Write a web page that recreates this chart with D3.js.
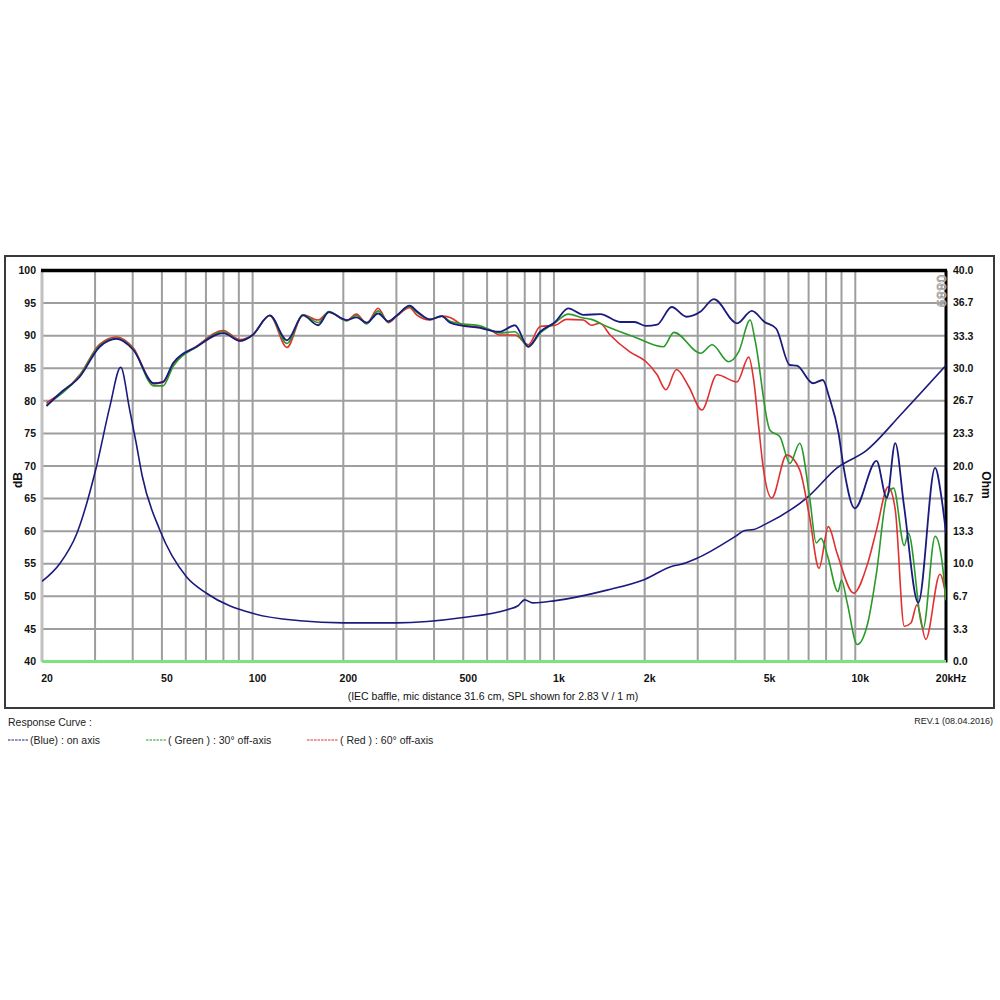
<!DOCTYPE html>
<html>
<head>
<meta charset="utf-8">
<script src="https://cdn.jsdelivr.net/npm/d3@7"></script>
<style>
  html, body { margin: 0; padding: 0; background: #fff; }
  svg { display: block; font-family: "Liberation Sans", Arial, sans-serif; }
</style>
</head>
<body>
<svg id="chart" width="1000" height="1000"></svg>
<script>
// ---------------- DATA ----------------
const blueFreq = [20.7,23,26.7,31.1,35.4,40.2,47,50.4,54.5,65.2,79.9,90.8,100,114,130,147,165,179,205,221,239,261,282,301,332,350,388,424,452,500,568,613,660,742,822,900,1010,1115,1252,1426,1658,1850,2022,2200,2460,2754,3068,3392,4050,4536,5000,5460,6060,6400,7240,7800,8200,8800,9140,9960,11760,12720,13570,14500,16180,18400,19300,20000];
const blueDb   = [79.2,81.2,83.7,88.3,89.5,87.8,82.7,82.9,85.8,88.3,90.4,89.2,90.1,93.1,89.3,93.1,91.6,93.6,92.4,92.8,92.0,93.4,92.2,93.1,94.6,93.8,92.5,93.0,92.0,91.5,91.2,90.8,90.6,91.6,88.3,90.6,92.1,94.2,93.2,93.3,92.1,92.1,91.5,91.7,94.4,92.9,93.7,95.6,91.9,93.8,92.1,91.1,85.5,85.4,82.7,83.2,80.5,75.0,69.9,63.5,70.8,65.1,73.5,64.0,49.0,69.7,65.3,59.7];

const greenFreq = [20.7,26.7,31.1,35.4,40.2,47,50.4,54.5,65.2,79.9,90.8,100,114,130,147,165,179,205,221,239,261,282,301,332,350,388,424,452,500,568,613,660,742,822,900,1010,1115,1252,1330,1498,1850,2306,2500,3068,3348,3796,4100,4480,4650,5210,5620,6070,6540,7050,7420,7700,8100,8760,9000,9400,10150,11000,11760,12720,13400,14540,15000,16800,18400,19300,20000];
const greenDb   = [79.4,83.9,88.5,89.6,87.9,82.3,82.3,85.3,88.3,90.6,89.2,90.1,93.1,88.8,93.2,92.0,93.7,92.3,93.1,91.8,93.8,92.1,93.1,94.5,93.6,92.5,93.0,92.2,91.8,91.5,90.9,90.4,90.6,88.3,90.4,92.0,93.3,92.7,92.5,91.4,89.8,88.3,90.5,87.3,88.6,86.0,87.5,92.4,89.3,75.5,74.5,70.4,73.5,65.3,58.2,58.9,56.1,50.7,52.5,49.0,42.6,45.9,53.6,65.3,66.6,57.8,59.7,45.1,59.2,56.1,49.4];

const redFreq = [20.7,26.7,31.1,35.4,40.2,47,50.4,54.5,65.2,79.9,90.8,100,114,130,147,165,179,205,221,239,261,282,301,332,350,388,424,452,500,568,613,660,742,822,900,1010,1100,1252,1330,1420,1536,1786,2022,2200,2352,2550,2800,3096,3476,4050,4430,4600,4780,4960,5280,5920,6540,7050,7580,8140,8700,9880,11000,11760,12860,13570,14540,15300,16020,17140,19100,20000];
const redDb   = [79.7,84.0,88.7,89.8,88.1,82.6,82.8,85.6,88.4,90.8,89.4,90.1,93.1,88.2,93.2,92.4,93.6,92.3,93.3,91.9,94.2,92.0,93.0,94.3,93.2,92.4,93.0,92.8,91.6,91.3,90.9,90.1,90.1,88.6,91.4,91.6,92.5,92.4,91.6,91.9,90.1,87.5,86.0,84.0,81.7,84.8,82.2,78.6,84.0,82.9,86.7,83.2,76.0,69.4,65.1,71.7,69.4,62.2,54.3,60.7,56.6,50.5,55.1,60.2,66.8,63.3,45.4,45.9,48.7,43.4,53.4,50.0];

const impFreq = [20,22.9,26.1,30.3,33.6,36.5,39,41.1,43,49.2,60.3,70.3,100,143.6,200,300,500,700,760,800,850,1000,1500,2000,2500,2600,3000,4000,4300,4600,5000,7000,8700,10900,14300,20000];
const impOhm  = [8.2,10.0,13.1,19.9,26.1,30.1,25.9,22.3,19.0,13.45,8.67,6.98,4.93,4.17,3.95,3.95,4.5,5.3,5.7,6.3,6.0,6.2,7.3,8.4,9.8,9.9,10.6,12.8,13.4,13.5,14.0,16.9,19.8,21.6,25.4,30.3];

const dbTicks  = [40,45,50,55,60,65,70,75,80,85,90,95,100];
const ohmTicks = [0,3.3,6.7,10,13.3,16.7,20,23.3,26.7,30,33.3,36.7,40];
const ohmTickLabels = ["0.0","3.3","6.7","10.0","13.3","16.7","20.0","23.3","26.7","30.0","33.3","36.7","40.0"];
const xTickValues = [20,50,100,200,500,1000,2000,5000,10000,20000];
const xTickLabels = ["20","50","100","200","500","1k","2k","5k","10k","20kHz"];
const gridFreqs = [];
[10,100,1000,10000].forEach(dec => { for (let m = 1; m <= 9; m++) { const f = dec*m; if (f >= 20 && f <= 20000) gridFreqs.push(f); } });
gridFreqs.push(20000);

const legendItems = [
  {label: "(Blue)  : on axis", color: "#1b1b7e"},
  {label: "( Green ) : 30° off-axis", color: "#2a9a2a"},
  {label: "( Red ) : 60° off-axis", color: "#e03030"}
];

// ---------------- DRAW ----------------
const svg = d3.select("#chart");
const L = 42, R = 946, T = 270.5, B = 661.5;
const x = d3.scaleLog().domain([20, 20000]).range([L, R]);
const y = d3.scaleLinear().domain([40, 100]).range([B, T]);
const yo = d3.scaleLinear().domain([0, 40]).range([B, T]);

// outer frame
svg.append("rect").attr("x", 5).attr("y", 256).attr("width", 989).attr("height", 452)
  .attr("fill", "none").attr("stroke", "#3a3a3a").attr("stroke-width", 2);

// grid
const grid = svg.append("g");
grid.selectAll("line.v").data(gridFreqs).join("line")
  .attr("x1", d => x(d)).attr("x2", d => x(d)).attr("y1", T).attr("y2", B)
  .attr("stroke", "#9e9e9e").attr("stroke-width", 2);
grid.selectAll("line.h").data(dbTicks).join("line")
  .attr("x1", L).attr("x2", R).attr("y1", d => y(d)).attr("y2", d => y(d))
  .attr("stroke", "#9e9e9e").attr("stroke-width", 2);

// left axis line (light grey), top black, right black, bottom green
svg.append("line").attr("x1", L).attr("x2", L).attr("y1", T).attr("y2", B).attr("stroke", "#c0c0c0").attr("stroke-width", 3);
svg.append("line").attr("x1", L - 1).attr("x2", R + 1).attr("y1", T).attr("y2", T).attr("stroke", "#000").attr("stroke-width", 3.5);
svg.append("line").attr("x1", R).attr("x2", R).attr("y1", T).attr("y2", B + 1).attr("stroke", "#000").attr("stroke-width", 3);
svg.append("line").attr("x1", L).attr("x2", R).attr("y1", B).attr("y2", B).attr("stroke", "#7ee27e").attr("stroke-width", 3);

// watermark text top right
svg.append("text").attr("transform", `translate(${R - 9},${T + 4}) rotate(90)`)
  .attr("font-size", 13).attr("fill", "#fff").attr("stroke", "#9a9a9a").attr("stroke-width", 0.8)
  .attr("font-family", "DejaVu Sans, sans-serif").text("0889");

// tick labels
svg.append("g").selectAll("text").data(dbTicks).join("text")
  .attr("x", 36).attr("y", d => y(d)).attr("dy", "0.35em").attr("text-anchor", "end")
  .attr("font-size", 10.5).attr("font-weight", "bold").attr("fill", "#111").text(d => d);
svg.append("g").selectAll("text").data(ohmTicks).join("text")
  .attr("x", 953).attr("y", d => yo(d)).attr("dy", "0.35em").attr("text-anchor", "start")
  .attr("font-size", 10.5).attr("font-weight", "bold").attr("fill", "#111").text((d, i) => ohmTickLabels[i]);
svg.append("g").selectAll("text").data(xTickValues).join("text")
  .attr("x", d => x(d) + 5).attr("y", 682).attr("text-anchor", "middle")
  .attr("font-size", 10.5).attr("font-weight", "bold").attr("fill", "#111").text((d, i) => xTickLabels[i]);

// axis titles
svg.append("text").attr("transform", "translate(22,480) rotate(-90)").attr("text-anchor", "middle")
  .attr("font-size", 12).attr("font-weight", "bold").attr("fill", "#111").text("dB");
svg.append("text").attr("transform", "translate(982,485) rotate(90)").attr("text-anchor", "middle")
  .attr("font-size", 12).attr("font-weight", "bold").attr("fill", "#111").text("Ohm");

// caption
svg.append("text").attr("x", 493).attr("y", 700).attr("text-anchor", "middle")
  .attr("font-size", 10.5).attr("fill", "#111").text("(IEC baffle, mic distance 31.6 cm, SPL shown for 2.83 V / 1 m)");

// clip
svg.append("clipPath").attr("id", "plotclip").append("rect")
  .attr("x", L).attr("y", T).attr("width", R - L).attr("height", B - T);

const line = d3.line().x(d => x(d[0])).y(d => d[1]).curve(d3.curveMonotoneX);
const curves = svg.append("g").attr("clip-path", "url(#plotclip)");

const zipDb = (fs, vs) => fs.map((f, i) => [f, y(vs[i])]);
const zipOhm = (fs, vs) => fs.map((f, i) => [f, yo(vs[i])]);

curves.append("path").attr("d", line(zipOhm(impFreq, impOhm)))
  .attr("fill", "none").attr("stroke", "#1b1b7e").attr("stroke-width", 1.6);
curves.append("path").attr("d", line(zipDb(redFreq, redDb)))
  .attr("fill", "none").attr("stroke", "#e03030").attr("stroke-width", 1.6);
curves.append("path").attr("d", line(zipDb(greenFreq, greenDb)))
  .attr("fill", "none").attr("stroke", "#2a9a2a").attr("stroke-width", 1.6);
curves.append("path").attr("d", line(zipDb(blueFreq, blueDb)))
  .attr("fill", "none").attr("stroke", "#1b1b7e").attr("stroke-width", 1.8);

// legend
svg.append("text").attr("x", 8).attr("y", 726).attr("font-size", 10.5).attr("fill", "#222").text("Response Curve :");
const legX = [8, 146, 307];
const legW = [20, 20, 31];
const leg = svg.append("g");
legendItems.forEach((it, i) => {
  leg.append("line").attr("x1", legX[i]).attr("x2", legX[i] + legW[i]).attr("y1", 740).attr("y2", 740)
    .attr("stroke", it.color).attr("stroke-width", 1).attr("stroke-dasharray", "2.5,1");
  leg.append("text").attr("x", legX[i] + legW[i] + 2).attr("y", 743.5).attr("font-size", 10.5).attr("fill", "#222").text(it.label);
});
svg.append("text").attr("x", 993).attr("y", 724).attr("text-anchor", "end")
  .attr("font-size", 9).attr("fill", "#222").text("REV.1 (08.04.2016)");
</script>
</body>
</html>
